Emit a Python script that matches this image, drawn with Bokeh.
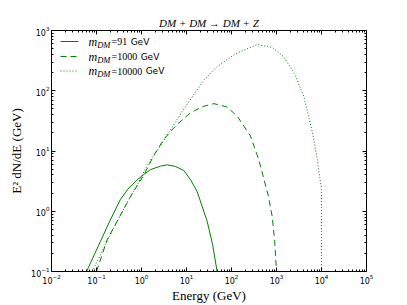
from bokeh.plotting import figure
from bokeh.models import (Range1d, FixedTicker, LogTickFormatter, LogAxis, Label,
                          Arrow, CustomJSTickFormatter)
from bokeh.embed import file_html
from bokeh.resources import INLINE

# ---------------- data ----------------
energy_91 = [0.060, 0.123, 0.19, 0.341, 0.501, 0.794, 1.12, 1.58, 2.64, 3.72,
             5.62, 8.71, 12.6, 17.3, 22.4, 28.8, 38.0, 47.9]
flux_91 = [0.1, 0.318, 0.646, 1.58, 2.34, 3.31, 4.07, 4.90, 5.62, 5.89,
           5.56, 4.75, 3.24, 2.10, 1.19, 0.68, 0.28, 0.1]

energy_1000 = [0.1, 0.173, 0.316, 0.621, 1.12, 1.87, 3.13, 6.21, 12.3, 22.4,
               40.5, 79.4, 134, 263, 398, 522, 661, 802, 912, 1000]
flux_1000 = [0.1, 0.339, 0.776, 1.97, 3.94, 8.38, 15.7, 27.7, 43.1, 54.3,
             61.2, 53.7, 37.9, 17.8, 7.41, 3.48, 1.78, 0.818, 0.316, 0.1]

energy_10000 = [0.0802, 0.158, 0.288, 0.501, 0.736, 1.12, 1.58, 2.64, 6.21, 10.0,
                24.3, 48.1, 126, 372, 794, 1452, 2512, 4046, 6310, 8017,
                10000, 10000]
flux_10000 = [0.1, 0.282, 0.676, 1.48, 2.38, 4.48, 7.08, 12.2, 33.5, 57.5,
              151, 251, 417, 582, 525, 366, 191, 80.7, 20, 7.40,
              2.29, 0.05]

masses = ["91", "1000", "10000"]
x_ticks = [1e-2, 1e-1, 1e0, 1e1, 1e2, 1e3, 1e4, 1e5]
y_ticks = [1e-1, 1e0, 1e1, 1e2, 1e3]

title_text = "DM + DM \u2192 DM + Z"
x_label = "Energy (GeV)"
y_label = "E\u00b2 dN/dE (GeV)"

# ---------------- layout / style ----------------
W, H = 407, 305
BL, BR, BT, BB = 51, 41, 30, 31
FW, FH = W - BL - BR, H - BT - BB
GREEN = "#008000"
styles = ["solid", "6 4", "1 2"]


def minor_list(majors):
    out = []
    for m in majors[:-1]:
        for k in range(2, 10):
            out.append(m * k)
    return out


p = figure(width=W, height=H, x_axis_type="log", y_axis_type="log",
           x_range=Range1d(x_ticks[0], x_ticks[-1]),
           y_range=Range1d(y_ticks[0], y_ticks[-1]),
           output_backend="svg", toolbar_location=None,
           min_border_left=BL, min_border_right=BR,
           min_border_top=BT, min_border_bottom=BB)
p.background_fill_color = "white"
p.border_fill_color = "white"
p.outline_line_color = "black"
p.outline_line_width = 1
p.xgrid.visible = False
p.ygrid.visible = False

p.title.text = title_text
p.title.align = "center"
p.title.text_font = "Liberation Serif"
p.title.text_font_style = "italic"
p.title.text_font_size = "11px"
p.title.text_color = "black"
p.title.standoff = 4


def style_axis(ax, ticks, show_labels=True):
    ax.ticker = FixedTicker(ticks=ticks, minor_ticks=minor_list(ticks))
    ax.major_tick_in = 4
    ax.major_tick_out = 0
    ax.minor_tick_in = 2
    ax.minor_tick_out = 0
    ax.axis_line_color = "black"
    ax.major_tick_line_color = "black"
    ax.minor_tick_line_color = "black"
    ax.major_label_text_font = "DejaVu Sans"
    ax.major_label_text_font_size = "8px"
    ax.major_label_text_color = "black"
    if show_labels:
        ax.formatter = LogTickFormatter()
        ax.major_label_standoff = 2
    else:
        ax.formatter = CustomJSTickFormatter(code="return ''")
        ax.major_label_standoff = 0


xa = p.xaxis[0]
ya = p.yaxis[0]
style_axis(xa, x_ticks)
style_axis(ya, y_ticks)
for ax, lab in ((xa, x_label), (ya, y_label)):
    ax.axis_label = lab
    ax.axis_label_text_font = "Liberation Serif"
    ax.axis_label_text_font_style = "normal"
    ax.axis_label_text_font_size = "13px"
    ax.axis_label_text_color = "black"
xa.axis_label_standoff = 1
ya.axis_label_standoff = 4

top = LogAxis()
style_axis(top, x_ticks, show_labels=False)
p.add_layout(top, "above")
right = LogAxis()
style_axis(right, y_ticks, show_labels=False)
p.add_layout(right, "right")

series = [(energy_91, flux_91), (energy_1000, flux_1000), (energy_10000, flux_10000)]
for (ex, fy), dash in zip(series, styles):
    p.line(ex, fy, line_color=GREEN, line_width=1, line_dash=dash)

# ---------------- legend drawn by hand (subscripted math label) ----------------
row_off = [14, 29, 43.5]        # px below the frame top
for mass, dash, off in zip(masses, styles, row_off):
    yy = FH - off
    p.add_layout(Arrow(end=None, x_start=9, y_start=yy, x_end=27, y_end=yy,
                       start_units="screen", end_units="screen",
                       line_color=GREEN, line_width=1, line_dash=dash))
    p.add_layout(Label(x=37, y=yy, x_units="screen", y_units="screen", text="m",
                       text_font="Liberation Serif", text_font_style="italic",
                       text_font_size="12px", text_baseline="middle", text_color="black"))
    p.add_layout(Label(x=45.7, y=yy - 3, x_units="screen", y_units="screen", text="DM",
                       text_font="Liberation Serif", text_font_style="italic",
                       text_font_size="8.5px", text_baseline="middle", text_color="black"))
    eq = "=" + mass
    p.add_layout(Label(x=60, y=yy, x_units="screen", y_units="screen", text=eq,
                       text_font="Liberation Serif", text_font_size="10px",
                       text_baseline="middle", text_color="black"))
    gx = 60 + 10 * (0.564 + 0.5 * len(mass)) + 3.5
    p.add_layout(Label(x=gx, y=yy, x_units="screen", y_units="screen", text="GeV",
                       text_font="DejaVu Sans", text_font_size="9px",
                       text_baseline="middle", text_color="black"))

open("out.html", "w").write(file_html(p, INLINE))
